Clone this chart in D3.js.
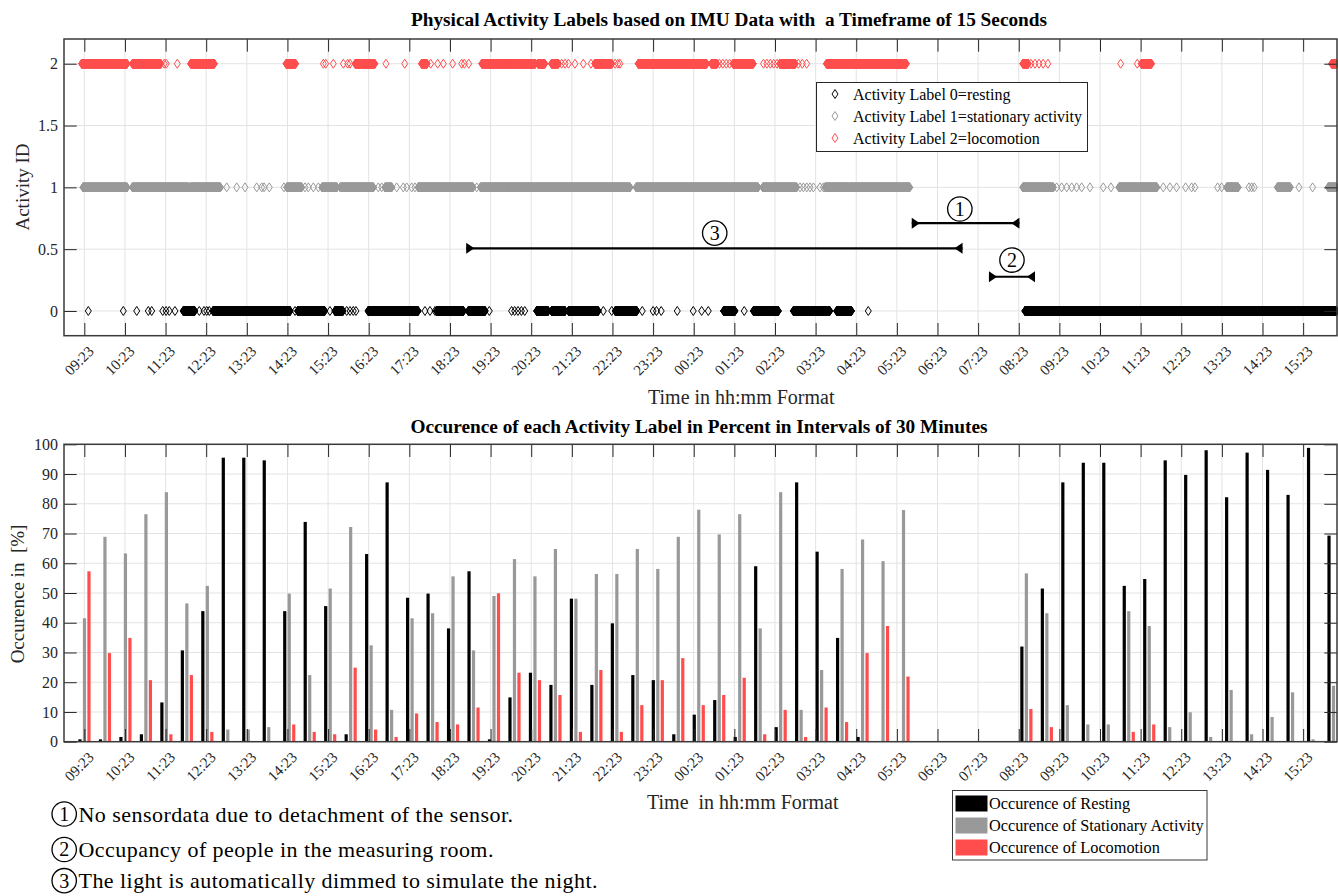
<!DOCTYPE html>
<html>
<head>
<meta charset="utf-8">
<script src="https://cdn.jsdelivr.net/npm/d3@7"></script>
<style>
  body { margin: 0; background: #fff; }
  svg { display: block; font-family: "Liberation Serif", "Times New Roman", serif; }
  text { white-space: pre; }
</style>
</head>
<body>
<svg id="chart" width="1338" height="896"></svg>
<script>
// ---------- data ----------
// hourly tick labels, one every 60 minutes starting at 09:23 on day one
const tickLabels = ["09:23","10:23","11:23","12:23","13:23","14:23","15:23","16:23","17:23",
  "18:23","19:23","20:23","21:23","22:23","23:23","00:23","01:23","02:23","03:23","04:23",
  "05:23","06:23","07:23","08:23","09:23","10:23","11:23","12:23","13:23","14:23","15:23"];

// activity labels, run-length encoded: [start, end] in minutes after 09:23,
// plus single 15-second windows that stand on their own
const restingRuns = [[146,163],[190,304],[315,355],[370,382],[419,493],[520,560],[567,592],
  [668,685],[690,710],[715,759],[784,816],[944,961],[988,1025],[1047,1101],[1111,1133],[1389,1849]];
const restingSingles = [5.9,57.6,77.4,94.5,99.5,115.8,120.7,125.5,133.9,169.8,176.8,180.8,184.6,
  311.2,362.8,387.5,392.4,397.2,401.2,503.1,510.5,517.9,598.1,631,635.5,640.5,645.5,650.4,
  766.5,778.9,824,840,845,852,875.7,899.3,911.7,921.5,974.6,1157.8];

const stationaryRuns = [[-2,63],[71,154],[156,201],[299,321],[351,373],[378,427],[444,454],
  [493,574],[585,806],[815,995],[1002,1052],[1094,1219],[1386,1431],[1528,1584],[1687,1704],
  [1762,1781],[1837,1849]];
const stationarySingles = [210.3,225.1,237.3,254.6,262,265.4,273.2,294.9,325.9,330.8,338.2,345.6,
  434.2,439.2,461.3,471.1,476.1,483.5,488.3,579.5,1057,1062,1067,1071.7,1076.7,1086.5,1091.4,
  1436,1443.4,1450.8,1458.2,1465.5,1472.9,1485.2,1504.8,1516.2,1593.4,1603.2,1613.1,1626.4,
  1635.3,1640.2,1673.7,1679.6,1720,1724,1727.8,1793.8,1814];

const locomotionRuns = [[-4,63],[71,113],[157,192],[298,312],[400,429],[498,506],[587,666],
  [670,680],[690,700],[754,779],[818,919],[926,934],[958,988],[1027,1050],[1096,1214],
  [1386,1394],[1561,1576],[1842,1849]];
const locomotionSingles = [118,121,137.3,353,356.5,367.7,382.5,389,392.4,445.5,473.2,511.5,
  521.9,530.2,544,557.3,561.2,567.7,705,710,715,724.6,736.9,748.3,784,788,791,938,943,948,953,
  1003,1008,1013,1018,1023,1054.4,1060.3,1066.8,1398,1404,1410,1416,1423,1530.5,1555];

// share of each label per 30-minute interval [%]
const restingPct = [0.8,0.8,1.6,2.5,13.2,30.7,43.9,95.5,95.5,94.6,43.9,73.9,45.6,2.5,63.1,87.2,
  48.4,49.8,38.1,57.3,0.8,14.9,23.2,19.1,48.1,19.1,39.8,22.4,20.7,2.5,9.1,14.0,1.6,59.0,4.9,87.2,
  63.9,34.9,1.6,0,0,0,0,0,0,0,32.0,51.5,87.2,93.8,93.8,52.4,54.7,94.6,89.7,98.0,82.2,97.2,91.4,
  83.0,98.8,69.3];
const stationaryPct = [41.5,68.9,63.3,76.5,83.9,46.5,52.4,4.1,4.1,4.9,49.8,22.4,51.5,72.2,32.4,
  10.7,41.5,43.2,55.6,30.7,49.0,61.4,55.6,64.8,48.1,56.4,56.4,64.8,58.1,68.9,78.0,69.7,76.5,38.1,
  83.9,10.7,24.1,58.1,68.0,60.7,77.9,0,0,0,0,0,56.6,43.2,12.3,5.8,5.8,43.9,38.9,4.9,9.9,1.6,17.4,
  2.5,8.3,16.6,0.8,18.8];
const locomotionPct = [57.3,29.8,34.9,20.7,2.5,22.4,3.3,0,0,0,5.8,3.3,2.5,24.9,4.1,1.6,9.5,6.6,
  5.8,11.5,49.9,23.2,20.7,15.7,3.3,24.1,3.3,12.3,20.7,28.1,12.3,15.7,21.5,2.5,10.7,1.6,11.5,6.6,
  29.8,38.9,21.9,0,0,0,0,0,11.0,4.9,0,0,0,3.3,5.8,0,0,0,0,0,0,0,0,0];

// numbered remarks: span [from, to] in minutes at an activity-ID level, badge position
const remarks = [
  { id: "1", from: 1222, to: 1381, level: 0.71, badgeAt: 1293, badge: 0.825, text: "No sensordata due to detachment of the sensor." },
  { id: "2", from: 1336, to: 1404, level: 0.277, badgeAt: 1370, badge: 0.412, text: "Occupancy of people in the measuring room." },
  { id: "3", from: 564, to: 1297, level: 0.507, badgeAt: 931, badge: 0.63, text: "The light is automatically dimmed to simulate the night." }
];

const labelNames = ["Activity Label 0=resting", "Activity Label 1=stationary activity", "Activity Label 2=locomotion"];
const barNames = ["Occurence of Resting", "Occurence of Stationary Activity", "Occurence of Locomotion"];
const colors = ["#000000", "#999999", "#ff4d4d"];

// ---------- drawing ----------
const svg = d3.select("#chart");
svg.append("rect").attr("width", 1338).attr("height", 896).attr("fill", "#fff");

const L = 64, R = 1337;
const tickMinutes = tickLabels.map((_, i) => i * 60);
const axisColor = "#262626", gridColor = "#e3e3e3", tickLen = 12.7;

function diamonds(xs, y, x) {
  let d = "";
  for (const m of xs) {
    const px = x(m);
    d += `M${px.toFixed(2)},${y - 4.5}L${(px + 3).toFixed(2)},${y}L${px.toFixed(2)},${y + 4.5}L${(px - 3).toFixed(2)},${y}Z`;
  }
  return d;
}
function expand(runs, singles) {
  const out = [];
  for (const [a, b] of runs) for (let m = a; m <= b; m += 0.25) out.push(m);
  return out.concat(singles);
}

function grid(g, x, y, top, bottom, yTicks) {
  g.append("g").selectAll("line").data(tickMinutes).join("line")
    .attr("x1", d => x(d)).attr("x2", d => x(d)).attr("y1", top).attr("y2", bottom)
    .attr("stroke", gridColor).attr("stroke-width", 1);
  g.append("g").selectAll("line").data(yTicks).join("line")
    .attr("x1", L).attr("x2", R).attr("y1", d => y(d)).attr("y2", d => y(d))
    .attr("stroke", gridColor).attr("stroke-width", 1);
}

function axes(g, x, y, top, bottom, yTicks, yFmt) {
  const gx = g.append("g").attr("transform", `translate(0,${bottom})`)
    .call(d3.axisBottom(x).tickValues(tickMinutes).tickSize(-tickLen).tickFormat(""));
  const gt = g.append("g").attr("transform", `translate(0,${top})`)
    .call(d3.axisTop(x).tickValues(tickMinutes).tickSize(-tickLen).tickFormat(""));
  const gl = g.append("g").attr("transform", `translate(${L},0)`)
    .call(d3.axisLeft(y).tickValues(yTicks).tickSize(-tickLen).tickPadding(6).tickFormat(yFmt));
  const gr = g.append("g").attr("transform", `translate(${R},0)`)
    .call(d3.axisRight(y).tickValues(yTicks).tickSize(-tickLen).tickFormat(""));
  for (const a of [gx, gt, gl, gr]) {
    a.select(".domain").remove();
    a.selectAll(".tick line").attr("stroke", axisColor).attr("stroke-width", 1);
  }
  gl.selectAll(".tick text").attr("font-family", "Liberation Serif").attr("font-size", 16).attr("fill", "#262626");
  g.append("rect").attr("x", L).attr("y", top).attr("width", R - L).attr("height", bottom - top)
    .attr("fill", "none").attr("stroke", "#3a3a3a").attr("stroke-width", 1.5);
  // rotated hour labels
  g.append("g").selectAll("text").data(tickLabels).join("text")
    .attr("transform", (d, i) => `translate(${x(tickMinutes[i]) + 10.5},${bottom + 16.5}) rotate(-45)`)
    .attr("text-anchor", "end").attr("font-size", 15).attr("fill", "#262626").text(d => d);
}

function badge(g, cx, cy, id) {
  g.append("circle").attr("cx", cx).attr("cy", cy).attr("r", 12.2)
    .attr("fill", "#fff").attr("stroke", "#000").attr("stroke-width", 1.3);
  g.append("text").attr("x", cx).attr("y", cy + 6.8).attr("text-anchor", "middle")
    .attr("font-size", 20).text(id);
}

// ---- upper chart: activity label per 15-second window ----
const top1 = 39, bot1 = 335.7;
const xTop = d3.scaleLinear().domain([-30, 1850]).range([L, R]);
const yTop = d3.scaleLinear().domain([-0.2, 2.2]).range([bot1, top1]);
const g1 = svg.append("g");
grid(g1, xTop, yTop, top1, bot1, [0, 0.5, 1, 1.5, 2]);

const series = [
  [restingRuns, restingSingles],
  [stationaryRuns, stationarySingles],
  [locomotionRuns, locomotionSingles]
];
series.forEach(([runs, singles], k) => {
  g1.append("path").attr("d", diamonds(expand(runs, singles), yTop(k), xTop))
    .attr("fill", "none").attr("stroke", colors[k]).attr("stroke-width", 1);
});

// remark spans
const remarkG = g1.append("g");
remarks.forEach(r => {
  const x1 = xTop(r.from), x2 = xTop(r.to), yy = yTop(r.level);
  remarkG.append("line").attr("x1", x1).attr("x2", x2).attr("y1", yy).attr("y2", yy)
    .attr("stroke", "#000").attr("stroke-width", 2.2);
  remarkG.append("path").attr("d", `M${x1},${yy - 5.5}L${x1 + 8},${yy}L${x1},${yy + 5.5}Z`).attr("fill", "#000");
  remarkG.append("path").attr("d", `M${x2},${yy - 5.5}L${x2 - 8},${yy}L${x2},${yy + 5.5}Z`).attr("fill", "#000");
  badge(remarkG, xTop(r.badgeAt), yTop(r.badge), r.id);
});

axes(g1, xTop, yTop, top1, bot1, [0, 0.5, 1, 1.5, 2], d3.format(""));

// legend of the label markers
const lg1 = g1.append("g");
lg1.append("rect").attr("x", 816.5).attr("y", 82.5).attr("width", 271).attr("height", 69)
  .attr("fill", "#fff").attr("stroke", "#262626").attr("stroke-width", 1);
labelNames.forEach((t, k) => {
  const yy = 94 + k * 22;
  lg1.append("path").attr("d", diamonds([0], yy, () => 835)).attr("fill", "none").attr("stroke", colors[k]);
  lg1.append("text").attr("x", 853).attr("y", yy + 5.5).attr("font-size", 16).attr("fill", "#000").text(t);
});

svg.append("text").attr("x", 729).attr("y", 26).attr("text-anchor", "middle")
  .attr("font-weight", "bold").attr("font-size", 19.3).text("Physical Activity Labels based on IMU Data with  a Timeframe of 15 Seconds");
svg.append("text").attr("transform", "translate(29,187) rotate(-90)").attr("text-anchor", "middle")
  .attr("font-size", 19).attr("fill", "#262626").text("Activity ID");
svg.append("text").attr("x", 648).attr("y", 404).attr("font-size", 20).attr("fill", "#262626").text("Time in hh:mm Format");

// ---- lower chart: share per 30-minute interval ----
const top2 = 444.3, bot2 = 741.7;
const xBot = d3.scaleLinear().domain([-30, 1850]).range([L, R]);
const xIdx = d3.scaleLinear().domain([-1, 61.17]).range([L, R]);
const yBot = d3.scaleLinear().domain([0, 100]).range([bot2, top2]);
const g2 = svg.append("g");
grid(g2, xBot, yBot, top2, bot2, d3.range(0, 101, 10));

const pctSeries = [restingPct, stationaryPct, locomotionPct];
const barW = 3.2;
pctSeries.forEach((vals, k) => {
  g2.append("g").selectAll("rect").data(vals).join("rect")
    .attr("x", (d, i) => xIdx(i) + (k - 1) * 4.5 - barW / 2)
    .attr("y", d => yBot(d))
    .attr("width", barW)
    .attr("height", d => bot2 - yBot(d))
    .attr("fill", colors[k]);
});
axes(g2, xBot, yBot, top2, bot2, d3.range(0, 101, 10), d3.format(""));

svg.append("text").attr("x", 699).attr("y", 433).attr("text-anchor", "middle")
  .attr("font-weight", "bold").attr("font-size", 19.3).text("Occurence of each Activity Label in Percent in Intervals of 30 Minutes");
svg.append("text").attr("transform", "translate(24,594) rotate(-90)").attr("text-anchor", "middle")
  .attr("font-size", 19).attr("fill", "#262626").text("Occurence in  [%]");
svg.append("text").attr("x", 647).attr("y", 809).attr("font-size", 20).attr("fill", "#262626").text("Time  in hh:mm Format");

// legend of the bar colours
const lg2 = svg.append("g");
lg2.append("rect").attr("x", 952.5).attr("y", 790.5).attr("width", 254.5).attr("height", 69.5)
  .attr("fill", "#fff").attr("stroke", "#3a3a3a").attr("stroke-width", 1);
barNames.forEach((t, k) => {
  const yy = 803.5 + k * 22;
  lg2.append("rect").attr("x", 955.5).attr("y", yy - 8).attr("width", 32).attr("height", 16).attr("fill", colors[k]);
  lg2.append("text").attr("x", 989).attr("y", yy + 5.5).attr("font-size", 16.3).attr("fill", "#000").text(t);
});

// footnotes explaining the numbered remarks
const notes = svg.append("g");
const noteY = [814, 849.5, 880.7];
remarks.forEach((r, i) => {
  badge(notes, 64.2, noteY[i], r.id);
  notes.append("text").attr("x", 78.5).attr("y", noteY[i] + 7.5).attr("font-size", 22)
    .attr("letter-spacing", 0.45).text(r.text);
});
</script>
</body>
</html>
